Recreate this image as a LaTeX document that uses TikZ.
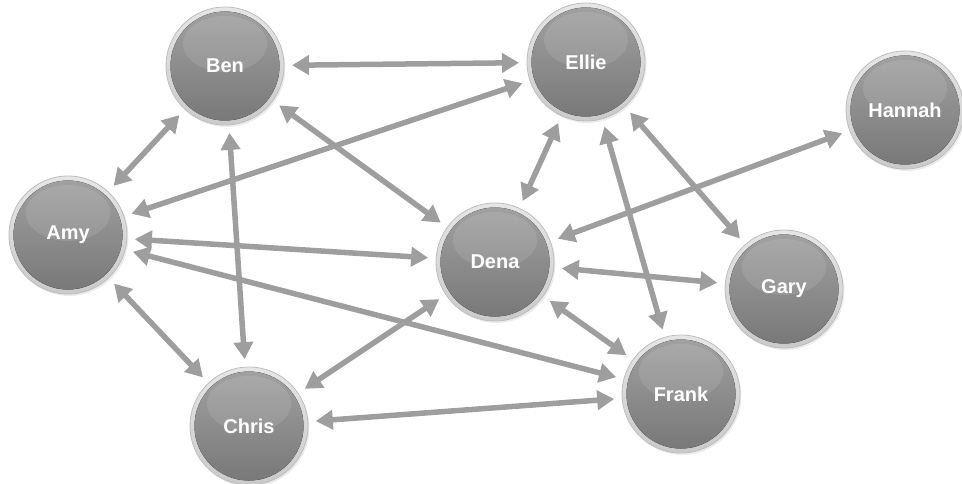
\documentclass[tikz,border=0pt]{standalone}
\usepackage{fontspec}
\setmainfont{Liberation Sans}
\usetikzlibrary{arrows.meta,shadows}
\definecolor{arrowgray}{HTML}{9E9E9E}
\definecolor{ringlight}{HTML}{E6E6E6}
\definecolor{ringdark}{HTML}{BDBDBD}
\definecolor{balltop}{HTML}{A2A2A2}
\definecolor{ballbottom}{HTML}{777777}
\tikzset{
  ball/.style={circle, minimum size=118pt, inner sep=0pt, outer sep=0pt,
    draw=ringdark, line width=0.8pt,
    top color=ringlight, bottom color=ringdark!80!white,
    drop shadow={shadow xshift=1.5pt, shadow yshift=-2pt, opacity=0.15, fill=gray},
    text=white, font=\bfseries\fontsize{20}{24}\selectfont,
    path picture={
      \fill[top color=balltop, bottom color=ballbottom]
        (path picture bounding box.center) circle (54.5pt);
      \fill[white, opacity=0.10]
        ([yshift=22pt]path picture bounding box.center) ellipse (42pt and 28pt);
    }},
  link/.style={draw=arrowgray, line width=5.5pt,
    {Triangle[length=17pt,width=19pt]}-{Triangle[length=17pt,width=19pt]},
    shorten >=8pt, shorten <=8pt}
}
\begin{document}
\begin{tikzpicture}[x=1pt,y=-1pt]
\useasboundingbox (0,0) rectangle (962,484);
\coordinate (pBen) at (225,66);
\coordinate (pEllie) at (586,62);
\coordinate (pHannah) at (905,110);
\coordinate (pAmy) at (68,235);
\coordinate (pDena) at (495,262);
\coordinate (pGary) at (784,289);
\coordinate (pChris) at (249,426);
\coordinate (pFrank) at (681,394);

\node[ball] (ben) at (pBen) {\raisebox{-3pt}{Ben}};
\node[ball] (ellie) at (pEllie) {\raisebox{-3pt}{Ellie}};
\node[ball] (hannah) at (pHannah) {\raisebox{-3pt}{Hannah}};
\node[ball] (amy) at (pAmy) {\raisebox{-3pt}{Amy}};
\node[ball] (dena) at (pDena) {\raisebox{-3pt}{Dena}};
\node[ball] (gary) at (pGary) {\raisebox{-3pt}{Gary}};
\node[ball] (chris) at (pChris) {\raisebox{-3pt}{Chris}};
\node[ball] (frank) at (pFrank) {\raisebox{-3pt}{Frank}};

\draw[link] (ben) -- (ellie);
\draw[link] (ben) -- (amy);
\draw[link] (ben) -- (chris);
\draw[link] (ben) -- (dena);
\draw[link] (amy) -- (ellie);
\draw[link] (amy) -- (dena);
\draw[link] (amy) -- (frank);
\draw[link] (amy) -- (chris);
\draw[link] (ellie) -- (dena);
\draw[link] (ellie) -- (frank);
\draw[link] (ellie) -- (gary);
\draw[link] (hannah) -- (dena);
\draw[link] (dena) -- (gary);
\draw[link] (dena) -- (frank);
\draw[link] (dena) -- (chris);
\draw[link] (chris) -- (frank);
\end{tikzpicture}
\end{document}
